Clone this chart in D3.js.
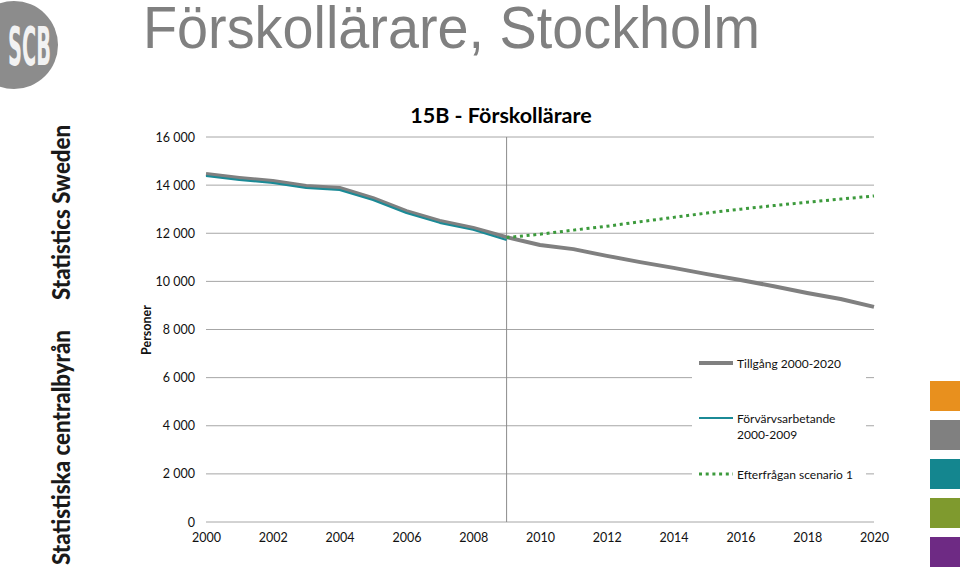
<!DOCTYPE html>
<html><head><meta charset="utf-8">
<script src="https://cdn.jsdelivr.net/npm/d3@7"></script>
<style>body{margin:0;background:#fff}svg{display:block}</style>
</head><body>
<svg id="c" width="960" height="574"></svg>
<script>
const years = d3.range(2000, 2021);
const tillgang = [14460,14300,14170,13960,13880,13460,12920,12510,12220,11840,11510,11340,11060,10800,10560,10300,10060,9800,9520,9270,8940];
const forvYears = d3.range(2000, 2010);
const forvarvs = [14380,14210,14090,13880,13800,13380,12840,12430,12140,11720];
const eftYears = d3.range(2009, 2021);
const efterfragan = [11820,11960,12130,12290,12480,12660,12840,13000,13150,13290,13420,13550];
const yTicks = [0,2000,4000,6000,8000,10000,12000,14000,16000];
const xTicks = [2000,2002,2004,2006,2008,2010,2012,2014,2016,2018,2020];
const markerYear = [2009];
const seriesNames = ["Tillgång 2000-2020", ["Förvärvsarbetande","2000-2009"], "Efterfrågan scenario 1"];
const brandColors = ["#E8901E","#808080","#14868F","#7F9A2E","#6E2A84"];

const svg = d3.select("#c");
const font = "Lato, 'Open Sans', sans-serif";
const x = d3.scaleLinear().domain([2000,2020]).range([206,874]);
const y = d3.scaleLinear().domain([0,16000]).range([522,137]);
const fmt = v => d3.format(",")(v).replace(/,/g," ");

// Logo
svg.append("circle").attr("cx",14).attr("cy",45).attr("r",44).attr("fill","#8c8c8c");
svg.append("text").attr("x",8).attr("y",65).attr("textLength",43).attr("lengthAdjust","spacingAndGlyphs")
  .attr("font-family","'Liberation Sans Narrow','DejaVu Sans Condensed',sans-serif").attr("font-weight","bold")
  .attr("font-size",54).attr("fill","#f2f2f2").text("SCB");

// Big title
svg.append("text").attr("x",143).attr("y",48).attr("font-family","'Liberation Sans',Arial,sans-serif")
  .attr("font-size",60).attr("fill","#808080").attr("textLength",617).attr("lengthAdjust","spacingAndGlyphs")
  .text("Förskollärare, Stockholm");

// Vertical brand texts
svg.append("text").attr("transform","translate(70,300) rotate(-90)").attr("font-family",font)
  .attr("font-weight","900").attr("font-size",24).attr("fill","#1a1a1a").attr("textLength",175)
  .attr("lengthAdjust","spacingAndGlyphs").text("Statistics Sweden");
svg.append("text").attr("transform","translate(70,565) rotate(-90)").attr("font-family",font)
  .attr("font-weight","900").attr("font-size",24).attr("fill","#1a1a1a").attr("textLength",235)
  .attr("lengthAdjust","spacingAndGlyphs").text("Statistiska centralbyrån");

// Brand squares
svg.selectAll("rect.sq").data(brandColors).join("rect").attr("class","sq")
  .attr("x",930).attr("y",(d,i)=>381+i*39).attr("width",30).attr("height",30).attr("fill",d=>d);

// Gridlines
svg.append("g").selectAll("line").data(yTicks).join("line")
  .attr("x1",x(2000)).attr("x2",x(2020)).attr("y1",d=>y(d)).attr("y2",d=>y(d))
  .attr("stroke","#a6a6a6").attr("stroke-width",1);

// Y axis labels
const yAxis = svg.append("g").attr("transform",`translate(${x(2000)},0)`)
  .call(d3.axisLeft(y).tickValues(yTicks).tickFormat(fmt).tickSize(0).tickPadding(11));
yAxis.select(".domain").remove();
yAxis.selectAll("text").attr("font-family",font).attr("font-size",12.5).attr("fill","#111");

// X axis labels
const xAxis = svg.append("g").attr("transform",`translate(0,${y(0)})`)
  .call(d3.axisBottom(x).tickValues(xTicks).tickFormat(d3.format("d")).tickSize(0).tickPadding(11));
xAxis.select(".domain").remove();
xAxis.selectAll("text").attr("font-family",font).attr("font-size",12.5).attr("fill","#111");

// Marker vertical line
svg.selectAll("line.mk").data(markerYear).join("line").attr("class","mk")
  .attr("x1",d=>x(d)).attr("x2",d=>x(d)).attr("y1",y(16000)).attr("y2",y(0))
  .attr("stroke","#8c8c8c").attr("stroke-width",1);

// Series
const line = d3.line().x(d=>x(d[0])).y(d=>y(d[1]));
svg.append("path").datum(years.map((yr,i)=>[yr,tillgang[i]])).attr("d",line)
  .attr("fill","none").attr("stroke","#808080").attr("stroke-width",4).attr("stroke-linejoin","round");
svg.append("path").datum(forvYears.map((yr,i)=>[yr,forvarvs[i]])).attr("d",line)
  .attr("fill","none").attr("stroke","#1B8A96").attr("stroke-width",2).attr("stroke-linejoin","round");
svg.append("path").datum(eftYears.map((yr,i)=>[yr,efterfragan[i]])).attr("d",line)
  .attr("fill","none").attr("stroke","#3C9A3C").attr("stroke-width",3).attr("stroke-dasharray","3 3.7");

// Chart title
svg.append("text").attr("x",501).attr("y",123).attr("text-anchor","middle").attr("font-family",font)
  .attr("font-weight","bold").attr("font-size",21.5).attr("fill","#000").text("15B - Förskollärare");

// Y label
svg.append("text").attr("transform","translate(151,330) rotate(-90)").attr("text-anchor","middle")
  .attr("font-family",font).attr("font-weight","bold").attr("font-size",12.5).attr("fill","#111").text("Personer");

// Legend
const lg = svg.append("g");
lg.append("rect").attr("x",692).attr("y",350).attr("width",174).attr("height",136).attr("fill","#fff");
const legY = [363,418,474];
const legStyle = [
  {c:"#808080",w:4,dash:null},
  {c:"#1B8A96",w:2,dash:null},
  {c:"#3C9A3C",w:3,dash:"3 3.7"}];
legY.forEach((ly,i)=>{
  lg.append("line").attr("x1",699).attr("x2",733).attr("y1",ly).attr("y2",ly)
    .attr("stroke",legStyle[i].c).attr("stroke-width",legStyle[i].w).attr("stroke-dasharray",legStyle[i].dash);
  const t = lg.append("text").attr("x",737).attr("y",ly+4.5).attr("font-family",font).attr("font-size",12).attr("fill","#111");
  const nm = seriesNames[i];
  if (Array.isArray(nm)) {
    nm.forEach((s,j)=>t.append("tspan").attr("x",737).attr("dy",j?16:0).text(s));
  } else t.text(nm);
});
</script>
</body></html>
